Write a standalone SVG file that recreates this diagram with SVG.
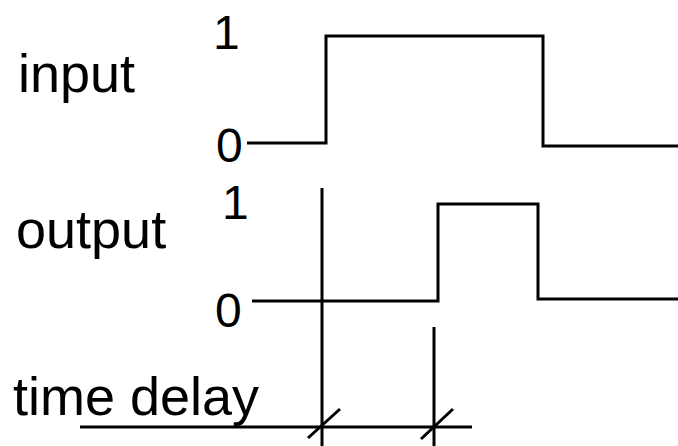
<svg xmlns="http://www.w3.org/2000/svg" width="678" height="446" viewBox="0 0 678 446">
<style>
.w{fill:none;stroke:#000;stroke-width:3;stroke-linejoin:miter}
.lbl{font-family:"Liberation Sans",Arial,sans-serif;font-size:54px;fill:#000}
.num{font-family:"Liberation Sans",Arial,sans-serif;font-size:48px;fill:#000}
</style>
<rect width="678" height="446" fill="#fff"/>
<g id="input">
<text class="lbl" x="18" y="92">input</text>
<text class="num" x="213" y="49">1</text>
<text class="num" x="216" y="162">0</text>
<path class="w" d="M247,143 H326 V36 H543 V146 H678"/>
</g>
<g id="output">
<text class="lbl" x="16" y="248">output</text>
<text class="num" x="222" y="219">1</text>
<text class="num" x="215" y="327">0</text>
<path class="w" d="M252,301 H438 V204 H538 V299 H678"/>
</g>
<g id="delay">
<text class="lbl" x="13" y="415">time delay</text>
</g>
<g id="connectors">
<path class="w" d="M322,188 V446 M434,327 V446 M80,427 H472"/>
<path class="w" d="M308,438 L340,409 M421,439 L453,409"/>
</g>
</svg>
